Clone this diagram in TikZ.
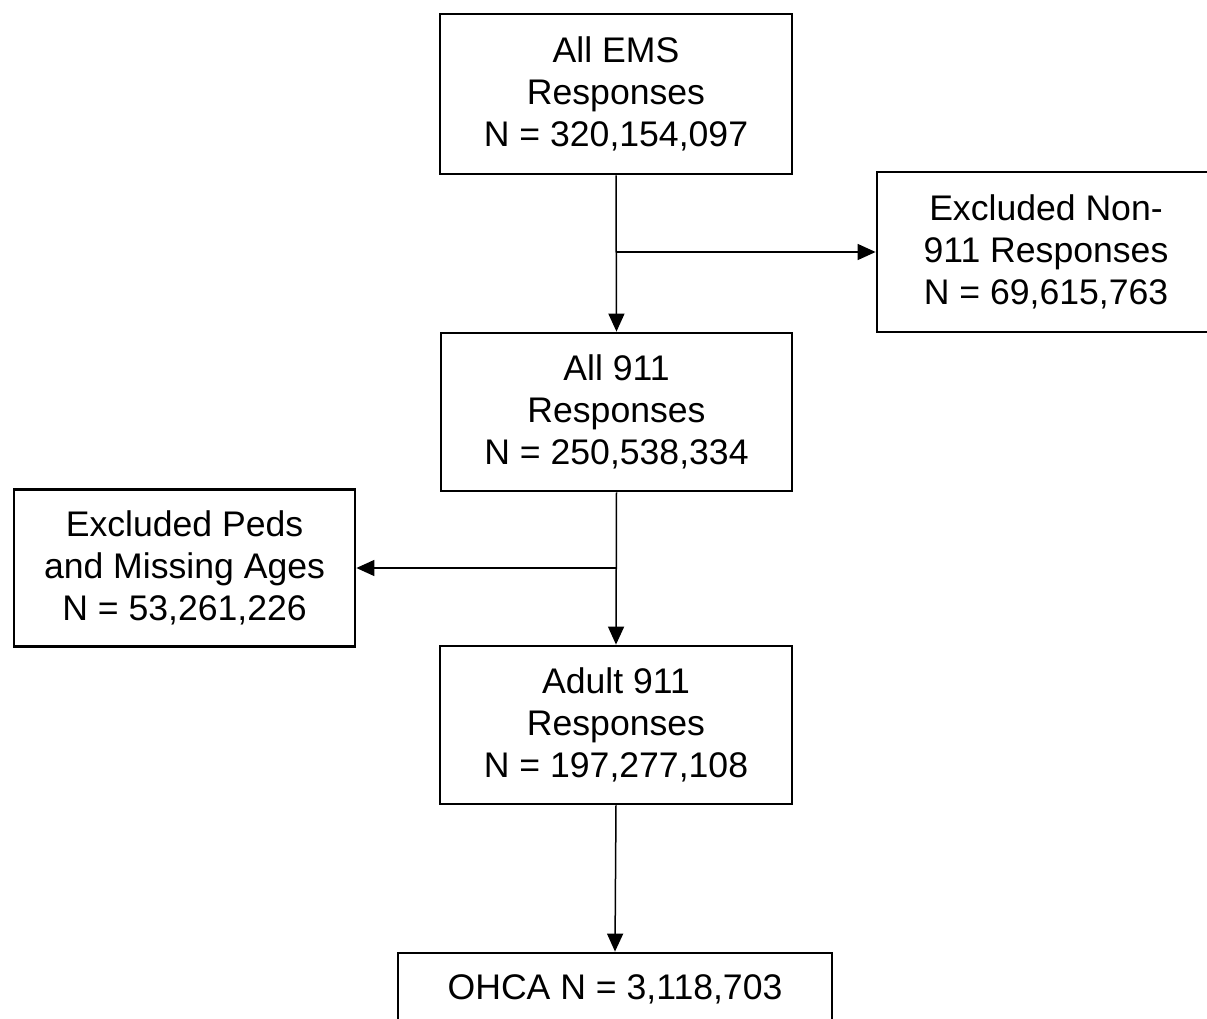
\documentclass[tikz,border=0pt]{standalone}
\usepackage{fontspec}
\setmainfont{Liberation Sans}
\usetikzlibrary{arrows.meta}
\begin{document}
\begin{tikzpicture}[x=0.5pt,y=-0.5pt,
  box/.style={draw, line width=1.4pt, inner sep=0pt, align=center, font=\fontsize{17.8}{21}\selectfont},
  arr/.style={line width=0.75pt, -{Triangle[length=9pt,width=8pt]}}]
\useasboundingbox (0,0) rectangle (1207,1019);
\clip (0,0) rectangle (1207,1019);
\node[box, minimum width=176pt, minimum height=80pt] (b1) at (616,94) {All EMS\\Responses\\N = 320,154,097};
\node[box, minimum width=175.5pt, minimum height=79pt] (b2) at (616.5,412) {All 911\\Responses\\N = 250,538,334};
\node[box, minimum width=176pt, minimum height=79pt] (b3) at (616,725) {Adult 911\\Responses\\N = 197,277,108};
\node[box, minimum width=169pt, minimum height=80pt] (r) at (1046,252) {Excluded Non-\\911 Responses\\N = 69,615,763};
\node[box, minimum width=170.5pt, minimum height=78.5pt] (p) at (184.5,568) {Excluded Peds\\and Missing Ages\\N = 53,261,226};
\node[box, minimum width=217pt, minimum height=36pt] (o) at (615,989) {OHCA N = 3,118,703};
\coordinate (j1) at (b1.south |- r.west);
\coordinate (j2) at (b2.south |- p.east);
\draw[arr] (b1.south) -- (b2.north);
\draw[arr] (j1) -- (r.west);
\draw[arr] (b2.south) -- (b3.north);
\draw[arr] (j2) -- (p.east);
\draw[arr] (b3.south) -- (o.north);
\end{tikzpicture}
\end{document}
